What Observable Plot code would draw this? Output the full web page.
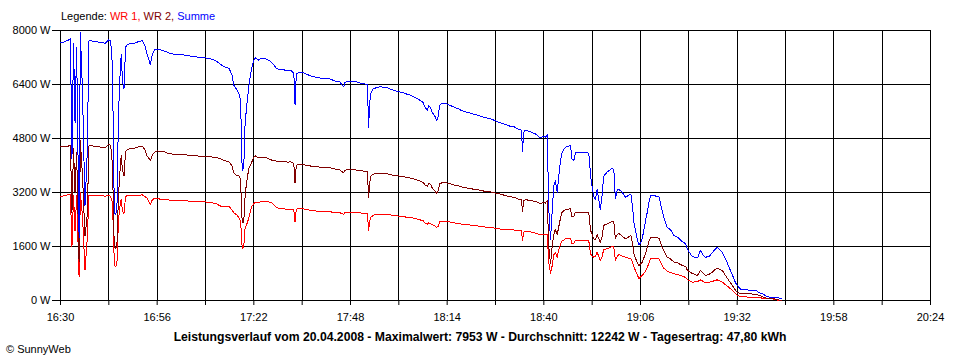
<!DOCTYPE html>
<html>
<head>
<meta charset="utf-8">
<script src="https://cdn.jsdelivr.net/npm/d3@7"></script>
<script src="https://cdn.jsdelivr.net/npm/@observablehq/plot@0.6"></script>
<style>
  html, body { margin: 0; padding: 0; background: #fff; }
  body { width: 960px; height: 360px; position: relative; overflow: hidden; font-family: "Liberation Sans", Arial, sans-serif; color: #000; }
  #legend { position: absolute; left: 61px; top: 11px; font-size: 11px; line-height: 11px; white-space: nowrap; }
  #caption { position: absolute; left: 0; top: 331px; width: 960px; text-align: center; font-size: 12.2px; line-height: 12.2px; font-weight: bold; white-space: nowrap; }
  #copy { position: absolute; left: 6px; top: 344px; font-size: 11px; line-height: 11px; white-space: nowrap; }
  #chart { position: absolute; left: 0; top: 0; }
</style>
</head>
<body>
<div id="chart"></div>
<div id="legend">Legende: <span style="color:#ff0000">WR 1,</span> <span style="color:#800000">WR 2,</span> <span style="color:#0000ff">Summe</span></div>
<div id="caption">Leistungsverlauf vom 20.04.2008 - Maximalwert: 7953 W - Durchschnitt: 12242 W - Tagesertrag: 47,80 kWh</div>
<div id="copy">© SunnyWeb</div>
<script>
const times = [
"16:30:00","16:31:00","16:32:00","16:32:40","16:33:05","16:33:30","16:33:55","16:34:20","16:35:00","16:35:20",
"16:35:55","16:36:35","16:37:10","16:37:40","16:38:30","16:40:00","16:41:00","16:42:00","16:43:00","16:43:30",
"16:44:00","16:44:20","16:44:40","16:45:10","16:45:30","16:45:50","16:46:20","16:46:40","16:47:05","16:47:30",
"16:48:00","16:49:00","16:50:00","16:51:00","16:52:00","16:52:40","16:53:10","16:54:10","16:54:40","16:55:20",
"16:56:00","16:57:00","16:58:00","16:59:00","17:00:00","17:01:00","17:02:00","17:03:00","17:04:00","17:05:00",
"17:06:00","17:07:00","17:08:00","17:09:00","17:10:00","17:11:00","17:12:00","17:13:00","17:14:00","17:15:20",
"17:16:10","17:16:35","17:17:30","17:18:15","17:18:35","17:18:52","17:19:18","17:19:35","17:20:00","17:20:38",
"17:21:18","17:22:00","17:22:27","17:23:20","17:24:00","17:25:00","17:26:00","17:27:00","17:28:00","17:29:00",
"17:30:00","17:31:00","17:32:00","17:32:45","17:33:05","17:33:25","17:34:00","17:35:00","17:36:00","17:37:00",
"17:38:00","17:39:00","17:40:00","17:41:00","17:42:00","17:43:00","17:44:00","17:45:00","17:46:10","17:46:30",
"17:47:00","17:48:00","17:49:00","17:50:00","17:51:00","17:52:00","17:52:35","17:52:50","17:53:20","17:53:40",
"17:54:00","17:55:00","17:56:00","17:57:00","17:58:00","17:59:00","18:00:00","18:01:00","18:02:00","18:03:00",
"18:04:00","18:05:00","18:06:00","18:07:00","18:07:30","18:08:00","18:08:40","18:09:00","18:09:30","18:10:00",
"18:10:40","18:11:10","18:11:35","18:12:00","18:12:40","18:13:30","18:14:00","18:15:00","18:16:00","18:17:00",
"18:18:00","18:19:00","18:20:00","18:21:00","18:22:00","18:23:00","18:24:00","18:25:00","18:26:00","18:27:00",
"18:28:00","18:29:00","18:30:00","18:31:00","18:32:00","18:33:00","18:34:00","18:34:15","18:34:35","18:35:00",
"18:36:00","18:37:00","18:38:00","18:39:00","18:40:00","18:40:25","18:40:55","18:41:20","18:41:48","18:42:15",
"18:42:40","18:43:05","18:43:35","18:44:00","18:44:30","18:44:55","18:45:50","18:47:10","18:47:35","18:48:05",
"18:48:30","18:49:55","18:51:40","18:52:05","18:52:35","18:53:00","18:53:25","18:53:55","18:54:20","18:55:10",
"18:55:40","18:56:05","18:57:00","18:58:25","18:58:50","18:59:15","18:59:45","19:00:10","19:01:05","19:02:00",
"19:03:25","19:03:50","19:04:15","19:05:10","19:05:35","19:06:00","19:06:30","19:07:25","19:07:50","19:08:15",
"19:08:40","19:09:10","19:10:55","19:11:25","19:11:50","19:12:15","19:13:10","19:14:05","19:15:00","19:15:55",
"19:16:50","19:18:10","19:18:35","19:19:55","19:21:20","19:22:05","19:23:00","19:23:30","19:24:25","19:25:25",
"19:26:35","19:28:00","19:29:20","19:29:45","19:30:40","19:31:35","19:32:00","19:33:00","19:35:00","19:37:00",
"19:38:00","19:39:00","19:40:00","19:41:00","19:42:00","19:43:00","19:44:00"
];
const wr1 = [
3090,3100,3140,3150,1600,3120,2050,3100,700,3200,
2500,900,1800,3120,3110,3100,3110,3090,3110,3080,
2900,1500,1000,1050,2100,2700,3000,2650,2580,3080,
3110,3120,3110,3120,3130,3080,3050,2840,2980,3030,
3020,3000,2990,2980,2970,2960,2960,2950,2950,2940,
2940,2930,2925,2920,2910,2890,2860,2800,2780,2785,
2676,2600,2528,2400,2133,1540,1600,2100,2230,2430,
2750,2880,2904,2900,2930,2930,2920,2880,2760,2720,
2720,2700,2700,2690,2330,2700,2726,2720,2700,2680,
2660,2650,2640,2630,2640,2620,2610,2610,2550,2607,
2610,2620,2620,2610,2590,2580,2578,2080,2450,2480,
2520,2550,2560,2560,2550,2530,2510,2500,2490,2470,
2460,2440,2410,2380,2370,2300,2260,2300,2280,2240,
2220,2160,2200,2330,2350,2350,2340,2320,2300,2280,
2260,2250,2240,2220,2210,2200,2180,2170,2160,2140,
2120,2110,2100,2090,2090,2070,2060,1770,2020,2060,
2040,2020,1990,1950,1960,1956,1950,1136,790,1037,
1350,1432,1284,1500,1679,1760,1830,1846,1679,1700,
1778,1778,1778,1770,1383,1320,1284,1300,1432,1185,
1300,1501,1531,1600,1580,1185,1300,1363,1320,1284,
1235,1150,988,760,642,700,741,880,988,1100,
1235,1240,1235,1150,1037,960,870,830,790,770,
741,680,620,543,560,612,560,523,540,570,
612,543,430,395,300,198,160,115,100,95,
90,60,50,50,40,10,0
];
const wr2 = [
4550,4560,4570,4600,2600,4500,3200,4400,1150,4740,
3700,1900,2500,4580,4580,4560,4540,4530,4620,4600,
4000,2000,1540,1600,2800,3600,4300,3850,3700,4420,
4480,4500,4520,4550,4570,4480,4300,4150,4300,4400,
4430,4425,4400,4360,4340,4330,4340,4330,4310,4300,
4290,4280,4276,4270,4260,4250,4230,4200,4150,4100,
3990,3780,3700,3680,3170,2300,2330,3000,3460,3900,
4070,4240,4286,4220,4250,4240,4200,4150,4130,4110,
4120,4100,4110,4050,3470,4000,4030,4040,4010,3990,
3970,3960,3950,3940,3950,3920,3890,3880,3780,3861,
3870,3880,3870,3860,3840,3830,3832,3040,3650,3713,
3740,3760,3770,3760,3750,3720,3700,3690,3670,3650,
3630,3600,3570,3530,3500,3430,3380,3470,3450,3330,
3250,3170,3250,3460,3490,3500,3480,3450,3420,3400,
3360,3340,3320,3300,3290,3260,3240,3230,3210,3180,
3160,3130,3100,3070,3060,3010,2990,2630,2950,2990,
2970,2950,2930,2870,2900,2884,2960,1580,1086,1600,
1950,2100,1950,2173,2450,2617,2696,2716,2469,2500,
2617,2617,2600,2600,2074,1950,1827,1800,1956,1728,
1900,2222,2272,2341,2321,1827,1960,1995,1900,1827,
1926,1700,1383,1100,1037,1080,1136,1420,1580,1750,
1857,1860,1850,1720,1580,1480,1284,1230,1136,1120,
1060,1000,900,800,741,889,800,741,770,850,
968,889,660,593,450,296,250,200,195,190,
150,100,60,55,50,20,5
];
const summe = [
7640,7660,7710,7750,4200,7620,5250,7500,1850,7940,
6200,2800,4300,7700,7690,7660,7650,7620,7730,7680,
6900,3500,2540,2650,4900,6300,7300,6500,6280,7500,
7590,7620,7630,7670,7700,7560,7350,6990,7280,7430,
7450,7425,7390,7340,7310,7290,7300,7280,7260,7240,
7230,7210,7200,7190,7170,7140,7090,7000,6930,6880,
6670,6380,6230,6080,5300,3840,3930,5100,5690,6330,
6820,7120,7190,7120,7180,7170,7120,7030,6890,6830,
6840,6800,6810,6740,5800,6700,6756,6760,6710,6670,
6630,6610,6590,6570,6590,6540,6500,6490,6330,6468,
6480,6500,6490,6470,6430,6410,6410,5140,6100,6190,
6260,6310,6330,6320,6300,6250,6210,6190,6160,6120,
6090,6040,5980,5910,5870,5730,5640,5770,5730,5570,
5470,5330,5450,5790,5840,5850,5820,5770,5720,5680,
5620,5590,5560,5520,5500,5460,5420,5400,5370,5320,
5280,5240,5200,5160,5150,5080,5050,4400,4970,5050,
5010,4970,4920,4820,4860,4840,4910,2700,1800,2640,
3400,3550,3210,3650,4148,4400,4543,4593,4198,4150,
4370,4395,4380,4365,3700,3350,3080,3000,3300,2700,
3100,3680,3802,3920,3880,3012,3280,3300,3200,3060,
3160,2800,2300,1800,1650,1700,1850,2400,2620,2900,
3100,3111,3081,2864,2650,2480,2160,2100,1926,1880,
1780,1679,1520,1300,1260,1481,1320,1284,1300,1430,
1580,1432,1120,1000,770,520,450,320,310,300,
230,190,110,100,90,80,50
];

const gridTimes = ["16:30","16:43","16:56","17:09","17:22","17:35","17:48","18:01","18:14","18:27","18:40","18:53","19:06","19:19","19:32","19:45","19:58","20:11","20:24"];
const xTickLabels = ["16:30","16:56","17:22","17:48","18:14","18:40","19:06","19:32","19:58","20:24"];
const yTicks = [0, 1600, 3200, 4800, 6400, 8000];

function toDate(t) {
  const p = t.split(":").map(Number);
  return new Date(Date.UTC(2008, 3, 20, p[0], p[1], p[2] || 0));
}
const rows = times.map((t, i) => ({date: toDate(t), wr1: wr1[i], wr2: wr2[i], summe: summe[i]}));
const gridDates = gridTimes.map(toDate);
const fmt = d3.utcFormat("%H:%M");
const labelSet = new Set(xTickLabels);

const chart = Plot.plot({
  width: 960,
  height: 360,
  marginLeft: 60,
  marginRight: 30,
  marginTop: 30,
  marginBottom: 60,
  style: {fontFamily: "'Liberation Sans', Arial, sans-serif", fontSize: "11px", background: "#fff", color: "#000", overflow: "visible"},
  x: {type: "utc", domain: [toDate("16:30"), toDate("20:24")]},
  y: {domain: [0, 8000]},
  marks: [
    Plot.gridX(gridDates, {stroke: "#000", strokeOpacity: 1, strokeWidth: 1, shapeRendering: "crispEdges"}),
    Plot.gridY(yTicks, {stroke: "#000", strokeOpacity: 1, strokeWidth: 1, shapeRendering: "crispEdges"}),
    Plot.axisX(gridDates, {tickSize: 5, tickPadding: 8, tickFormat: d => labelSet.has(fmt(d)) ? fmt(d) : "", label: null, stroke: "#000"}),
    Plot.axisY(yTicks, {tickSize: 8, tickPadding: 2, tickFormat: d => d + " W", label: null, stroke: "#000"}),
    Plot.line(rows, {x: "date", y: "wr1", stroke: "#ff0000", strokeWidth: 1, shapeRendering: "crispEdges"}),
    Plot.line(rows, {x: "date", y: "wr2", stroke: "#800000", strokeWidth: 1, shapeRendering: "crispEdges"}),
    Plot.line(rows, {x: "date", y: "summe", stroke: "#0000ff", strokeWidth: 1, shapeRendering: "crispEdges"})
  ]
});
document.getElementById("chart").appendChild(chart);
</script>
</body>
</html>
